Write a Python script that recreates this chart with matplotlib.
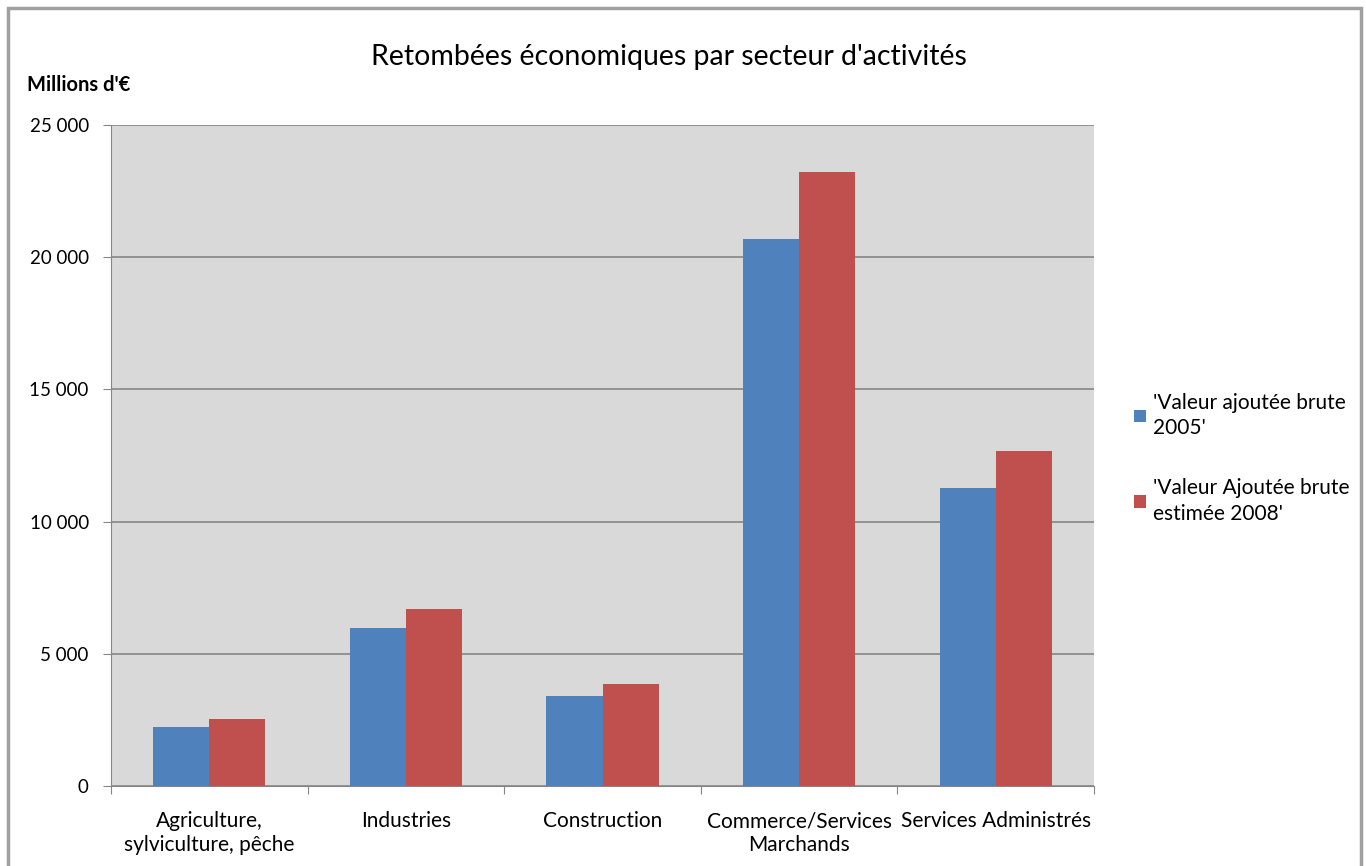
import matplotlib.pyplot as plt
import numpy as np
from matplotlib.patches import Rectangle
from matplotlib.ticker import FuncFormatter

categories = ['Agriculture,\nsylviculture, pêche', 'Industries', 'Construction',
              'Commerce/Services\nMarchands', 'Services Administrés']
vab_2005 = [2240, 5970, 3420, 20670, 11280]
vab_2008 = [2550, 6690, 3840, 23210, 12670]
series_names = ["'Valeur ajoutée brute\n2005'", "'Valeur Ajoutée brute\nestimée 2008'"]

plt.rcParams['font.family'] = ['Lato', 'DejaVu Sans']

fig = plt.figure(figsize=(13.66, 8.66), dpi=100)
ax = fig.add_axes([111/1366, 80/866, 983/1366, 661/866])

x = np.arange(len(categories))
w = 0.285
ax.bar(x - w/2, vab_2005, w, color='#4F81BD', label=series_names[0], zorder=3)
ax.bar(x + w/2, vab_2008, w, color='#C0504D', label=series_names[1], zorder=3)

ax.set_facecolor('#D9D9D9')
ax.set_xlim(-0.5, len(categories) - 0.5)
ax.set_ylim(0, 25000)
ax.set_yticks(np.arange(0, 25001, 5000))
ax.yaxis.set_major_formatter(FuncFormatter(lambda v, p: f'{int(v):,}'.replace(',', ' ')))
ax.grid(axis='y', color='#868686', linewidth=1.2, zorder=1)
ax.tick_params(axis='y', labelsize=13.5, length=6, color='#868686', pad=10)

# category labels between the boundary ticks
ax.set_xticks(np.arange(-0.5, len(categories), 1))
ax.set_xticklabels([])
ax.set_xticks(x, minor=True)
ax.set_xticklabels(categories, minor=True, fontsize=15, linespacing=1.25)
ax.tick_params(axis='x', which='major', length=6, color='#868686')
ax.tick_params(axis='x', which='minor', length=0, pad=18)

for s in ['top', 'right']:
    ax.spines[s].set_visible(False)
for s in ['left', 'bottom']:
    ax.spines[s].set_color('#868686')

leg = ax.legend(loc='center left', bbox_to_anchor=(1.022, 0.496), frameon=False,
                handlelength=0.55, handleheight=0.55, handletextpad=0.35,
                labelspacing=1.9, prop={'size': 15})
for t in leg.get_texts():
    t.set_linespacing(1.35)

fig.text(0.49, 0.934, "Retombées économiques par secteur d'activités",
         ha='center', va='center', fontsize=20.5)
fig.text(0.02, 0.902, "Millions d'€", ha='left', va='center', fontsize=14.5,
         fontweight='bold')

fig.patches.append(Rectangle((8/1366, -0.01), 1353/1366, 1 - 8/866 + 0.01,
                             transform=fig.transFigure, fill=False,
                             edgecolor='#A0A0A0', linewidth=2.5))

fig.savefig('out.png', dpi=100)
